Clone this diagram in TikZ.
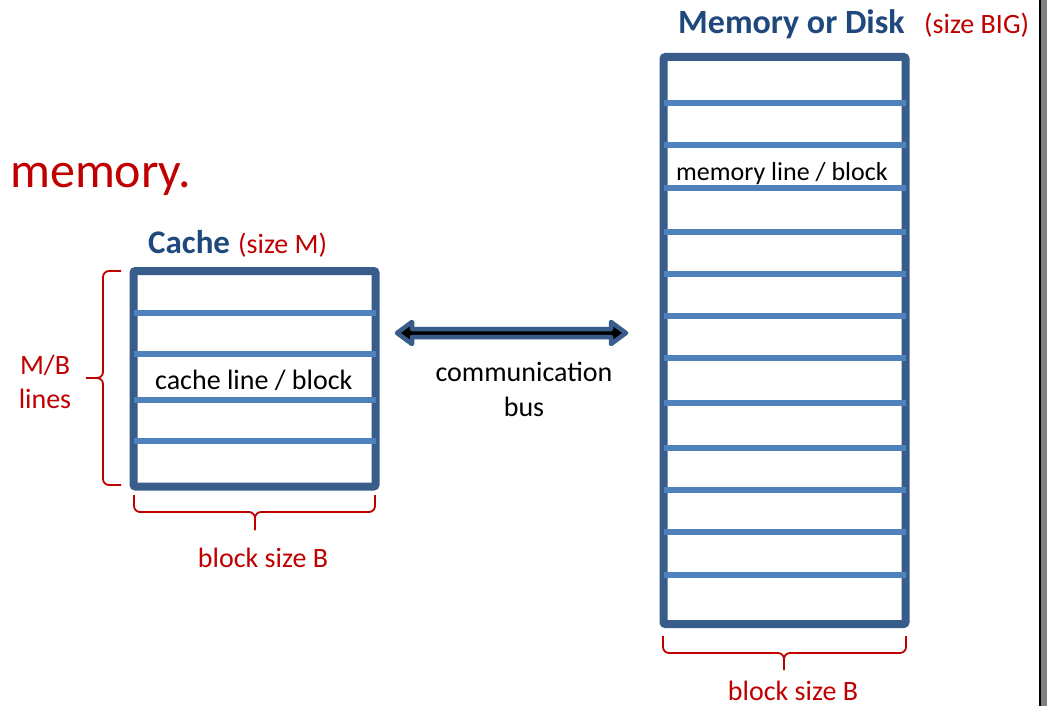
\documentclass[tikz,border=0pt]{standalone}
\usepackage{fontspec}
\setmainfont{Carlito}
\usetikzlibrary{calc}
\definecolor{frameblue}{RGB}{56,93,138}
\definecolor{rowblue}{RGB}{79,129,189}
\definecolor{titleblue}{RGB}{31,73,125}
\definecolor{notered}{RGB}{192,0,0}
\newcommand{\fsz}[1]{\fontsize{#1}{1.2\dimexpr#1pt\relax}\selectfont}
\begin{document}
\begin{tikzpicture}[x=1pt,y=-1pt,
  storebox/.style={draw=frameblue, line width=8pt, rounded corners=2pt,
    inner sep=0pt, outer sep=0pt},
  rowline/.style={draw=rowblue, line width=6.5pt},
  bracepath/.style={draw=notered, line width=1.8pt, rounded corners=6pt},
  lbl/.style={inner sep=0pt, anchor=base west, font=\fsz{28}},
  redlbl/.style={lbl, text=notered},
  title/.style={inner sep=0pt, anchor=base west, font=\fsz{33}\bfseries, text=titleblue}]
\useasboundingbox (0,0) rectangle (1047,706);
\fill[white] (0,0) rectangle (1047,706);

% window edge on the right
\fill[gray] (1040,0) rectangle (1047,706);
\draw[black, line width=2pt] (1039.5,0) -- (1039.5,706);

% heading fragment
\node[redlbl, font=\fsz{50}] (heading) at (10,187) {memory.};

% cache
\node[storebox, minimum width=242pt, minimum height=215.5pt] (cache) at (254.5,378.75) {};
\foreach \yy in {313,354,400,441}
  \draw[rowline] (cache.west |- 0,\yy) -- (cache.east |- 0,\yy);
\node[title] (cachetitle) at (148,253) {Cache};
\node[redlbl] (cachesize) at (238,253) {(size M)};
\node[lbl] (cacheline) at (155,389) {cache line / block};

% memory
\node[storebox, minimum width=242pt, minimum height=567pt] (mem) at (784.5,340.5) {};
\foreach \yy in {103,145,188,232,274,316,358,403,448,490,532,575}
  \draw[rowline] (mem.west |- 0,\yy) -- (mem.east |- 0,\yy);
\node[title, font=\fsz{34}\bfseries] (memtitle) at (678,34) {Memory or Disk};
\node[redlbl] (memsize) at (924,34) {(size BIG)};
\node[lbl, font=\fsz{26}] (memline) at (676,180) {memory line / block};

% communication bus
\coordinate (busL) at (397,333);
\coordinate (busR) at (626,333);
\draw[draw=frameblue, fill=black, line width=4.5pt, line join=round]
  (busL) -- ($(busL)+(15,-11)$) -- ($(busL)+(15,-4)$)
  -- ($(busR)+(-15,-4)$) -- ($(busR)+(-15,-11)$) -- (busR)
  -- ($(busR)+(-15,11)$) -- ($(busR)+(-15,4)$)
  -- ($(busL)+(15,4)$) -- ($(busL)+(15,11)$) -- cycle;
\node[lbl, anchor=base] (bus1) at (524,381) {communication};
\node[lbl, anchor=base] (bus2) at (524,416) {bus};

% M/B lines brace
\coordinate (lbtip) at (86,378);
\draw[bracepath] (121,271) -- (103,271) -- (103,378) -- (lbtip);
\draw[bracepath] (121,485) -- (103,485) -- (103,378) -- (lbtip);
\node[redlbl, anchor=base] (mb1) at (45,374) {M/B};
\node[redlbl, anchor=base] (mb2) at (45,408) {lines};

% block size brace under cache
\coordinate (cbtip) at (255,530);
\draw[bracepath] (134,495) -- (134,512) -- (255,512) -- (cbtip);
\draw[bracepath] (375,495) -- (375,512) -- (255,512) -- (cbtip);
\node[redlbl, anchor=base] (cbsize) at (263,567) {block size B};

% block size brace under memory
\coordinate (mbtip) at (784,670);
\draw[bracepath] (663,636) -- (663,653) -- (784,653) -- (mbtip);
\draw[bracepath] (906,636) -- (906,653) -- (784,653) -- (mbtip);
\node[redlbl, anchor=base] (mbsize) at (793,700) {block size B};
\end{tikzpicture}
\end{document}
